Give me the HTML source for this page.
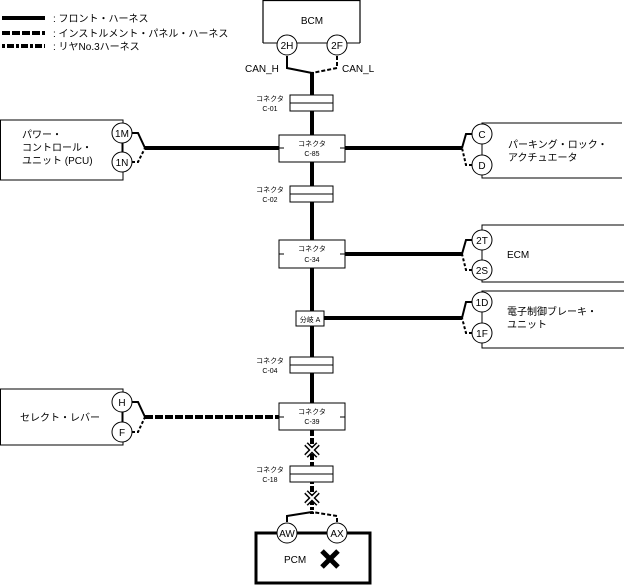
<!DOCTYPE html>
<html><head><meta charset="utf-8"><style>
body{margin:0;background:#fff}
svg{display:block}
text{font-family:"Liberation Sans","Noto Sans CJK JP",sans-serif;fill:#000}
.s{font-size:7px}
.m{font-size:10px}
</style></head><body>
<svg width="624" height="586" viewBox="0 0 624 586" xmlns="http://www.w3.org/2000/svg">
<g fill="none" stroke="#000">
<!-- legend -->
<line x1="2" y1="18" x2="45" y2="18" stroke-width="4"/>
<line x1="2" y1="33" x2="45" y2="33" stroke-width="4" stroke-dasharray="8,2"/>
<line x1="2" y1="46" x2="45" y2="46" stroke-width="4" stroke-dasharray="3,2,7,2"/>
<!-- BCM -->
<path d="M263,43 V0.5 H360 V43" stroke-width="1.2"/>
<line x1="263" y1="43" x2="360" y2="43" stroke-width="1"/>
<!-- main trunk -->
<line x1="312" y1="72" x2="312" y2="403" stroke-width="4"/>
<line x1="312" y1="430" x2="312" y2="466" stroke-width="4" stroke-dasharray="6,2"/>
<line x1="312" y1="481" x2="312" y2="514" stroke-width="4" stroke-dasharray="3,2,6,2"/>
<!-- CAN split -->
<path d="M287,56 V68 L312,73" stroke-width="2"/>
<path d="M337,56 V68 L312,73" stroke-width="2" stroke-dasharray="4,2"/>
<!-- PCM split -->
<path d="M287,522 V516 L312,512" stroke-width="2"/>
<path d="M337,522 V516 L312,512" stroke-width="2" stroke-dasharray="4,2"/>
<!-- horizontal wires -->
<line x1="145" y1="148" x2="279" y2="148" stroke-width="4"/>
<line x1="345" y1="148" x2="462" y2="148" stroke-width="4"/>
<line x1="345" y1="254" x2="462" y2="254" stroke-width="4"/>
<line x1="324" y1="318" x2="462" y2="318" stroke-width="4"/>
<line x1="145" y1="417" x2="279" y2="417" stroke-width="4" stroke-dasharray="8,2"/>
<!-- left forks -->
<path d="M132,133 H138 L145,148" stroke-width="2"/>
<path d="M132,162 H138 L145,148" stroke-width="2" stroke-dasharray="3,2"/>
<path d="M132,402 H138 L145,417" stroke-width="2"/>
<path d="M132,432 H138 L145,417" stroke-width="2" stroke-dasharray="3,2"/>
<!-- right forks -->
<path d="M472,134 H466 L462,148" stroke-width="2"/>
<path d="M472,165 H466 L462,148" stroke-width="2" stroke-dasharray="3,2"/>
<path d="M472,240 H466 L462,254" stroke-width="2"/>
<path d="M472,270 H466 L462,254" stroke-width="2" stroke-dasharray="3,2"/>
<path d="M472,302 H466 L462,318" stroke-width="2"/>
<path d="M472,333 H466 L462,318" stroke-width="2" stroke-dasharray="3,2"/>
<!-- side boxes -->
<path d="M0.5,120 H123 V180 H0.5 Z" stroke-width="1"/>
<path d="M0.5,389 H123 V445 H0.5 Z" stroke-width="1"/>
<path d="M622,123 H482 V178 H622" stroke-width="1"/>
<path d="M624,225 H482 V282 H624" stroke-width="1"/>
<path d="M624,291 H482 V348 H624" stroke-width="1"/>
<line x1="122" y1="133" x2="122" y2="162"/>
<line x1="122" y1="402" x2="122" y2="432"/>
<line x1="482" y1="134" x2="482" y2="165"/>
<line x1="482" y1="240" x2="482" y2="270"/>
<line x1="482" y1="302" x2="482" y2="333"/>
<!-- PCM box -->
<rect x="256" y="533" width="114" height="50" stroke-width="3"/>
</g>
<!-- connectors -->
<g fill="#fff" stroke="#000" stroke-width="1">
<rect x="290" y="95" width="43" height="16"/><line x1="290" y1="103" x2="333" y2="103"/>
<rect x="290" y="186" width="43" height="16"/><line x1="290" y1="194" x2="333" y2="194"/>
<rect x="290" y="357" width="43" height="16"/><line x1="290" y1="365" x2="333" y2="365"/>
<rect x="290" y="466" width="43" height="16"/><line x1="290" y1="474" x2="333" y2="474"/>
<rect x="279" y="135" width="66" height="27"/>
<rect x="279" y="240" width="66" height="28"/>
<rect x="279" y="403" width="66" height="27"/>
<rect x="296" y="311" width="28" height="15"/>
<circle cx="287" cy="45" r="10"/><circle cx="337" cy="45" r="10"/>
<circle cx="122" cy="133" r="10"/><circle cx="122" cy="162" r="10"/>
<circle cx="122" cy="402" r="10"/><circle cx="122" cy="432" r="10"/>
<circle cx="482" cy="134" r="10"/><circle cx="482" cy="165" r="10"/>
<circle cx="482" cy="240" r="10"/><circle cx="482" cy="270" r="10"/>
<circle cx="482" cy="302" r="10"/><circle cx="482" cy="333" r="10"/>
<circle cx="287" cy="533" r="10"/><circle cx="337" cy="533" r="10"/>
</g>
<g stroke="#000" stroke-width="1">
<line x1="279" y1="148" x2="284" y2="148"/><line x1="340" y1="148" x2="345" y2="148"/>
<line x1="279" y1="254" x2="284" y2="254"/><line x1="340" y1="254" x2="345" y2="254"/>
<line x1="279" y1="417" x2="284" y2="417"/><line x1="340" y1="417" x2="345" y2="417"/>
</g>
<!-- X marks -->
<g stroke-linecap="butt">
<path d="M306,444 L318,456 M318,444 L306,456" stroke="#000" stroke-width="5"/>
<path d="M306,444 L318,456 M318,444 L306,456" stroke="#fff" stroke-width="2"/>
<path d="M306,492 L318,504 M318,492 L306,504" stroke="#000" stroke-width="5"/>
<path d="M306,492 L318,504 M318,492 L306,504" stroke="#fff" stroke-width="2"/>
<path d="M322,551 L338,567 M338,551 L322,567" stroke="#000" stroke-width="5"/>
</g>
<!-- text -->
<text class="m" x="53" y="22">: フロント・ハーネス</text>
<text class="m" x="53" y="37">: インストルメント・パネル・ハーネス</text>
<text class="m" x="53" y="50">: リヤNo.3ハーネス</text>
<text class="m" x="312" y="24" text-anchor="middle">BCM</text>
<text class="m" x="245" y="72">CAN_H</text>
<text class="m" x="342" y="72">CAN_L</text>
<g class="m" text-anchor="middle" font-size="9">
<text x="287" y="49" font-size="10">2H</text><text x="337" y="49" font-size="10">2F</text>
<text x="122" y="137" font-size="10">1M</text><text x="122" y="166" font-size="10">1N</text>
<text x="122" y="406" font-size="10">H</text><text x="122" y="436" font-size="10">F</text>
<text x="482" y="138" font-size="10">C</text><text x="482" y="169" font-size="10">D</text>
<text x="482" y="244" font-size="10">2T</text><text x="482" y="274" font-size="10">2S</text>
<text x="482" y="306" font-size="10">1D</text><text x="482" y="337" font-size="10">1F</text>
<text x="287" y="537" font-size="10">AW</text><text x="337" y="537" font-size="10">AX</text>
</g>
<g class="s" text-anchor="middle">
<text x="270" y="101">コネクタ</text><text x="270" y="111">C-01</text>
<text x="270" y="192">コネクタ</text><text x="270" y="202">C-02</text>
<text x="270" y="363">コネクタ</text><text x="270" y="373">C-04</text>
<text x="270" y="472">コネクタ</text><text x="270" y="482">C-18</text>
<text x="312" y="146">コネクタ</text><text x="312" y="156">C-85</text>
<text x="312" y="251">コネクタ</text><text x="312" y="262">C-34</text>
<text x="312" y="414">コネクタ</text><text x="312" y="424">C-39</text>
<text x="310" y="322">分岐 A</text>
</g>
<text class="m" x="22" y="138">パワー・</text>
<text class="m" x="22" y="151">コントロール・</text>
<text class="m" x="22" y="164">ユニット (PCU)</text>
<text class="m" x="20" y="421">セレクト・レバー</text>
<text class="m" x="508" y="148">パーキング・ロック・</text>
<text class="m" x="508" y="161">アクチュエータ</text>
<text class="m" x="507" y="258">ECM</text>
<text class="m" x="507" y="315">電子制御ブレーキ・</text>
<text class="m" x="507" y="328">ユニット</text>
<text class="m" x="284" y="563" font-size="11">PCM</text>
</svg>
</body></html>
